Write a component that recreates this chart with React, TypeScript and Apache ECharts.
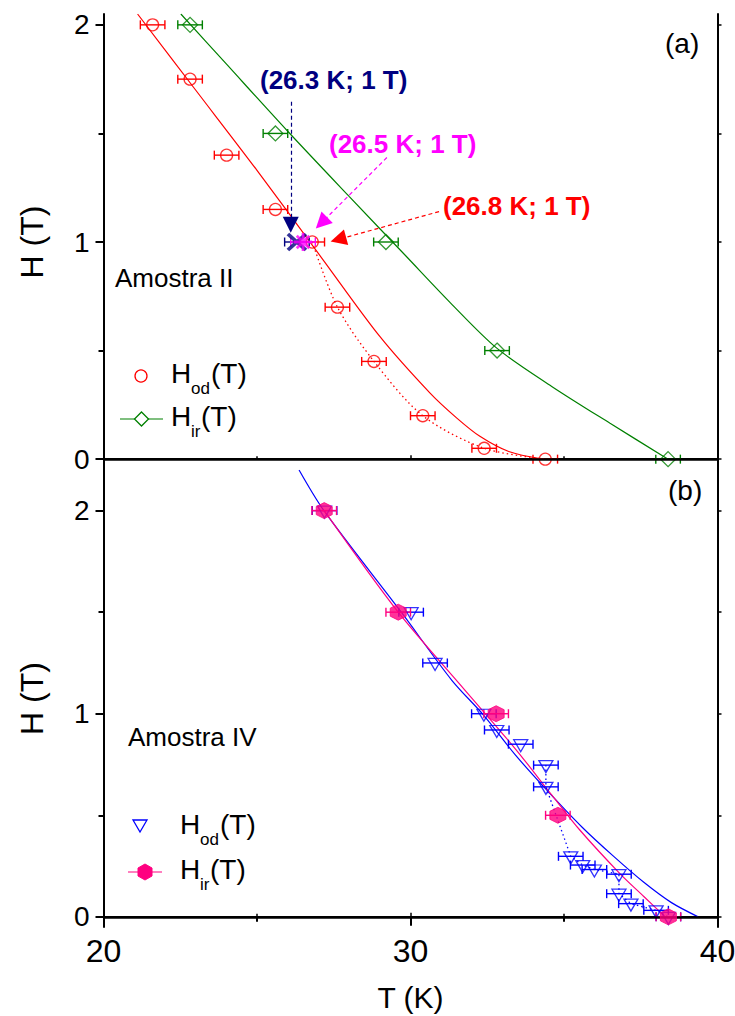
import React, { useEffect, useRef } from "react";
import * as echarts from "echarts";

const FONT = "'Liberation Sans', Arial, Helvetica, sans-serif";

// ---------------- Panel (a): Amostra II ----------------
const aOdT = [21.6, 22.82, 24.01, 25.6, 26.8, 27.62, 28.81, 30.4, 32.4, 34.39];
const aOdH = [2.0, 1.75, 1.4, 1.15, 1.0, 0.7, 0.45, 0.2, 0.05, 0.0];
const aIrT = [22.82, 25.6, 29.2, 32.82, 38.39];
const aIrH = [2.0, 1.5, 1.0, 0.5, 0.0];
const aCrossT = [26.3];
const aCrossH = [1.0];
const aStarT = [26.5];
const aStarH = [1.0];
// fitted curves
const aOdFitT = [21.11, 23.0, 25.0, 27.11, 29.0, 30.63, 31.5, 32.26, 33.2, 34.3];
const aOdFitH = [2.05, 1.7, 1.33, 0.926, 0.565, 0.305, 0.19, 0.105, 0.035, 0.0];
const aIrFitT = [22.52, 24.0, 26.0, 28.0, 29.82, 31.3, 32.82, 34.6, 36.5, 38.39];
const aIrFitH = [2.05, 1.82, 1.51, 1.21, 0.94, 0.72, 0.51, 0.335, 0.165, 0.0];
const aDottedFrom = 4; // dotted link of H_od from (26.8 K; 1 T)

// ---------------- Panel (b): Amostra IV ----------------
const bOdT = [27.2, 30.02, 30.8, 32.39, 32.81, 33.59, 34.41, 34.41, 35.22, 35.61, 35.99, 36.79, 36.79, 37.18, 38.0, 38.4];
const bOdH = [2.0, 1.5, 1.25, 1.0, 0.92, 0.85, 0.747, 0.64, 0.298, 0.255, 0.233, 0.21, 0.114, 0.065, 0.032, 0.0];
const bIrT = [27.19, 29.6, 32.79, 34.8, 38.4];
const bIrH = [2.0, 1.5, 1.0, 0.5, 0.0];
const bOdFitT = [26.37, 27.18, 29.7, 31.34, 32.4, 33.4, 34.44, 35.6, 36.6, 37.6, 38.5, 39.37];
const bOdFitH = [2.2, 2.0, 1.5, 1.166, 0.99, 0.8, 0.624, 0.44, 0.3, 0.17, 0.07, 0.0];
const bIrFitT = [27.19, 29.6, 31.75, 33.4, 34.6, 35.5, 36.82, 37.6, 38.3];
const bIrFitH = [2.0, 1.5, 1.12, 0.83, 0.6, 0.43, 0.213, 0.1, 0.0];
const bDottedFrom = 6;

const tErr = 0.4; // horizontal error bar half-width (K)

const xMin = 20;
const xMax = 40;
const xStep = 10;
const yMajor = [0, 1, 2];
const yMinor = [0.5, 1.5];
const yAll = [0, 0.5, 1, 1.5, 2];

// annotations: [T, H] start / arrow-head centre
const annNavy = [[26.1, 1.646], [26.1, 1.08]];
const annMag = [[29.23, 1.389], [27.1, 1.088]];
const annRed = [[30.93, 1.14], [27.65, 1.012]];

const RED = "#ff0000";
const GREEN = "#008000";
const NAVY = "#000080";
const MAG = "#ff00ff";
const BLUE = "#0000ff";
const PINK = "#ff0080";

const zip = (t: number[], h: number[]) => t.map((v, i) => [v, h[i]]);
const errData = (t: number[], h: number[]) => t.map((v, i) => [v, h[i], tErr]);

const HEX = "path://M5,0L9.33,2.5L9.33,7.5L5,10L0.67,7.5L0.67,2.5Z";
const DOWN_TRI = "path://M0,0L10,0L5,8.66Z";
const XMARK = "path://M0,0L10,10M10,0L0,10";
const STAR = "path://M5,0L5,10M0,5L10,5M1.5,1.5L8.5,8.5M8.5,1.5L1.5,8.5";

function errRender(color: string) {
  return (params: any, api: any) => {
    const t = api.value(0);
    const h = api.value(1);
    const e = api.value(2);
    const a = api.coord([t - e, h]);
    const b = api.coord([t + e, h]);
    const st = { stroke: color, lineWidth: 1.4 };
    const cap = 4.5;
    return {
      type: "group",
      children: [
        { type: "line", shape: { x1: a[0], y1: a[1], x2: b[0], y2: b[1] }, style: st },
        { type: "line", shape: { x1: a[0], y1: a[1] - cap, x2: a[0], y2: a[1] + cap }, style: st },
        { type: "line", shape: { x1: b[0], y1: b[1] - cap, x2: b[0], y2: b[1] + cap }, style: st },
      ],
    };
  };
}

function errSeries(t: number[], h: number[], color: string, gi: number, z = 3) {
  return {
    type: "custom",
    xAxisIndex: gi * 2,
    yAxisIndex: gi * 3,
    renderItem: errRender(color),
    data: errData(t, h),
    encode: { x: 0, y: 1 },
    z,
    silent: true,
  };
}

function lineSeries(t: number[], h: number[], color: string, gi: number, extra: any = {}) {
  return {
    type: "line",
    xAxisIndex: gi * 2,
    yAxisIndex: gi * 3,
    data: zip(t, h),
    symbol: "none",
    smooth: 0.3,
    lineStyle: { color, width: 1.2 },
    z: 2,
    silent: true,
    ...extra,
  };
}

const zeroLine = {
  silent: true,
  symbol: "none",
  label: { show: false },
  lineStyle: { color: "#000", width: 2.5, type: "solid" },
  data: [{ yAxis: 0 }],
};

function arrow(p: number[][], color: string) {
  return [
    { coord: p[0], lineStyle: { color, width: 1.2, type: [4, 3] }, itemStyle: { color } },
    { coord: p[1] },
  ];
}

function buildOption() {
  const axisLine = { show: true, lineStyle: { color: "#000", width: 2 } };
  const xBase = {
    type: "value",
    min: xMin,
    max: xMax,
    interval: xStep,
    splitLine: { show: false },
    axisLine,
  };
  const xAxes: any[] = [];
  const yAxes: any[] = [];
  [0, 1].forEach((gi) => {
    const isBottom = gi === 1;
    xAxes.push({
      ...xBase,
      gridIndex: gi,
      position: "bottom",
      axisTick: isBottom ? { show: true, length: 9, lineStyle: { color: "#000", width: 2 } } : { show: false },
      minorTick: isBottom
        ? { show: true, splitNumber: 2, length: 5, lineStyle: { color: "#000", width: 2 } }
        : { show: false },
      axisLabel: isBottom
        ? { show: true, fontSize: 32, color: "#000", fontFamily: FONT, margin: 8, showMinLabel: true, showMaxLabel: true }
        : { show: false },
      name: isBottom ? "T (K)" : "",
      nameLocation: "middle",
      nameGap: 55,
      nameTextStyle: { fontSize: 30, color: "#000", fontFamily: FONT },
    });
    xAxes.push({
      ...xBase,
      gridIndex: gi,
      position: "top",
      axisTick: { show: true, length: 4, lineStyle: { color: "#000", width: 1.5 } },
      minorTick: { show: true, splitNumber: 2, length: 3, lineStyle: { color: "#000", width: 1.5 } },
      axisLabel: { show: false },
    });
    const yMax = gi === 0 ? 2.05 : 2.2;
    const yBase = {
      type: "value",
      gridIndex: gi,
      min: -0.05,
      max: yMax,
      splitLine: { show: false },
    };
    yAxes.push({
      ...yBase,
      position: "left",
      axisLine,
      axisTick: { show: true, length: 8, customValues: yMajor, lineStyle: { color: "#000", width: 2 } },
      axisLabel: { show: true, customValues: yMajor, fontSize: 28, color: "#000", fontFamily: FONT, margin: 14 },
      name: "H (T)",
      nameLocation: "middle",
      nameGap: 56,
      nameTextStyle: { fontSize: 32, color: "#000", fontFamily: FONT },
    });
    yAxes.push({
      ...yBase,
      position: "left",
      axisLine: { show: false },
      axisTick: { show: true, length: 5, customValues: yMinor, lineStyle: { color: "#000", width: 2 } },
      axisLabel: { show: false },
    });
    yAxes.push({
      ...yBase,
      position: "right",
      axisLine,
      axisTick: { show: true, length: 4, customValues: yAll, lineStyle: { color: "#000", width: 1.5 } },
      axisLabel: { show: false },
    });
  });

  const series: any[] = [
    // ---- panel (a) ----
    lineSeries(aOdFitT, aOdFitH, RED, 0, { markLine: zeroLine }),
    lineSeries(aIrFitT, aIrFitH, GREEN, 0),
    lineSeries(aOdT.slice(aDottedFrom), aOdH.slice(aDottedFrom), RED, 0, {
      lineStyle: { color: RED, width: 1.3, type: [1.5, 3] },
    }),
    errSeries(aOdT, aOdH, RED, 0),
    errSeries(aIrT, aIrH, GREEN, 0),
    errSeries(aCrossT, aCrossH, NAVY, 0),
    errSeries(aStarT, aStarH, MAG, 0),
    {
      type: "scatter",
      xAxisIndex: 0,
      yAxisIndex: 0,
      data: zip(aOdT, aOdH),
      symbol: "circle",
      symbolSize: 12,
      itemStyle: { color: "rgba(0,0,0,0)", borderColor: RED, borderWidth: 1.3 },
      z: 4,
      silent: true,
    },
    {
      type: "scatter",
      xAxisIndex: 0,
      yAxisIndex: 0,
      data: zip(aIrT, aIrH),
      symbol: "diamond",
      symbolSize: 15,
      itemStyle: { color: "rgba(0,0,0,0)", borderColor: GREEN, borderWidth: 1.3 },
      z: 4,
      silent: true,
    },
    {
      type: "scatter",
      xAxisIndex: 0,
      yAxisIndex: 0,
      data: zip(aCrossT, aCrossH),
      symbol: XMARK,
      symbolSize: [18, 16],
      itemStyle: { color: "rgba(0,0,0,0)", borderColor: NAVY, borderWidth: 3.5 },
      z: 5,
      silent: true,
      markLine: {
        silent: true,
        symbol: ["none", "triangle"],
        symbolSize: 16,
        label: { show: false },
        data: [arrow(annNavy, NAVY), arrow(annMag, MAG), arrow(annRed, RED)],
      },
    },
    {
      type: "scatter",
      xAxisIndex: 0,
      yAxisIndex: 0,
      data: zip(aStarT, aStarH),
      symbol: STAR,
      symbolSize: 18,
      itemStyle: { color: "rgba(0,0,0,0)", borderColor: MAG, borderWidth: 2.8 },
      z: 6,
      silent: true,
    },
    // ---- panel (b) ----
    lineSeries(bOdFitT, bOdFitH, BLUE, 1, { markLine: zeroLine }),
    lineSeries(bIrFitT, bIrFitH, PINK, 1),
    lineSeries(bOdT.slice(bDottedFrom), bOdH.slice(bDottedFrom), BLUE, 1, {
      smooth: false,
      lineStyle: { color: BLUE, width: 1.3, type: [1.5, 3] },
    }),
    errSeries(bOdT, bOdH, BLUE, 1),
    errSeries(bIrT, bIrH, PINK, 1),
    {
      type: "scatter",
      xAxisIndex: 2,
      yAxisIndex: 3,
      data: zip(bOdT, bOdH),
      symbol: DOWN_TRI,
      symbolSize: [14, 12],
      symbolOffset: [0, 1.5],
      itemStyle: { color: "rgba(0,0,0,0)", borderColor: BLUE, borderWidth: 1.3 },
      z: 4,
      silent: true,
    },
    {
      type: "scatter",
      xAxisIndex: 2,
      yAxisIndex: 3,
      data: zip(bIrT, bIrH),
      symbol: HEX,
      symbolSize: 16,
      itemStyle: { color: PINK, borderColor: PINK, borderWidth: 1 },
      z: 5,
      silent: true,
    },
  ];

  const txt = (x: number, y: number, text: string, size: number, color = "#000", weight: any = "normal") => ({
    type: "text",
    x,
    y,
    silent: true,
    style: { text, fontSize: size, fontFamily: FONT, fill: color, fontWeight: weight, verticalAlign: "middle", align: "left" },
  });

  const legendLabel = (x: number, y: number, sub: string, subW: number) => [
    txt(x, y, "H", 28),
    txt(x + 20, y + 15, sub, 17),
    txt(x + 21 + subW, y, "(T)", 28),
  ];

  const graphic: any[] = [
    // panel labels
    txt(665, 43, "(a)", 28),
    txt(668, 490, "(b)", 28),
    txt(115, 278, "Amostra II", 26),
    txt(128, 737, "Amostra IV", 26),
    // annotations
    txt(260, 80, "(26.3 K; 1 T)", 26, NAVY, "bold"),
    txt(329, 144, "(26.5 K; 1 T)", 26, MAG, "bold"),
    txt(443, 206, "(26.8 K; 1 T)", 26, RED, "bold"),
    // legend (a)
    { type: "circle", shape: { cx: 141, cy: 376, r: 6 }, style: { fill: "none", stroke: RED, lineWidth: 1.3 }, silent: true },
    ...legendLabel(171, 373, "od", 19),
    { type: "line", shape: { x1: 120, y1: 419, x2: 163, y2: 419 }, style: { stroke: GREEN, lineWidth: 1.2 }, silent: true },
    {
      type: "polygon",
      shape: { points: [[141.5, 412], [148.5, 419], [141.5, 426], [134.5, 419]] },
      style: { fill: "#fff", stroke: GREEN, lineWidth: 1.3 },
      silent: true,
    },
    ...legendLabel(171, 416, "ir", 9),
    // legend (b)
    {
      type: "polygon",
      shape: { points: [[133, 820], [147, 820], [140, 832]] },
      style: { fill: "none", stroke: BLUE, lineWidth: 1.3 },
      silent: true,
    },
    ...legendLabel(180, 824, "od", 19),
    { type: "line", shape: { x1: 128, y1: 872, x2: 162, y2: 872 }, style: { stroke: PINK, lineWidth: 1.2 }, silent: true },
    {
      type: "polygon",
      shape: { points: [[145, 864], [152, 868], [152, 876], [145, 880], [138, 876], [138, 868]] },
      style: { fill: PINK, stroke: PINK, lineWidth: 1 },
      silent: true,
    },
    ...legendLabel(180, 869, "ir", 9),
  ];

  return {
    animation: false,
    backgroundColor: "#fff",
    textStyle: { fontFamily: FONT },
    grid: [
      { left: 103.5, width: 614, top: 14, height: 456, outerBoundsMode: "none", containLabel: false },
      { left: 103.5, width: 614, top: 470, height: 457, outerBoundsMode: "none", containLabel: false },
    ],
    xAxis: xAxes,
    yAxis: yAxes,
    series,
    graphic,
  };
}

export default function App() {
  const ref = useRef<HTMLDivElement>(null);
  useEffect(() => {
    if (!ref.current) return;
    const chart = echarts.init(ref.current, undefined, { renderer: "svg" });
    chart.setOption(buildOption() as any);
    return () => chart.dispose();
  }, []);
  return (
    <div
      ref={ref}
      style={{ position: "absolute", left: 0, top: 0, width: 735, height: 1016, background: "#fff" }}
    />
  );
}
